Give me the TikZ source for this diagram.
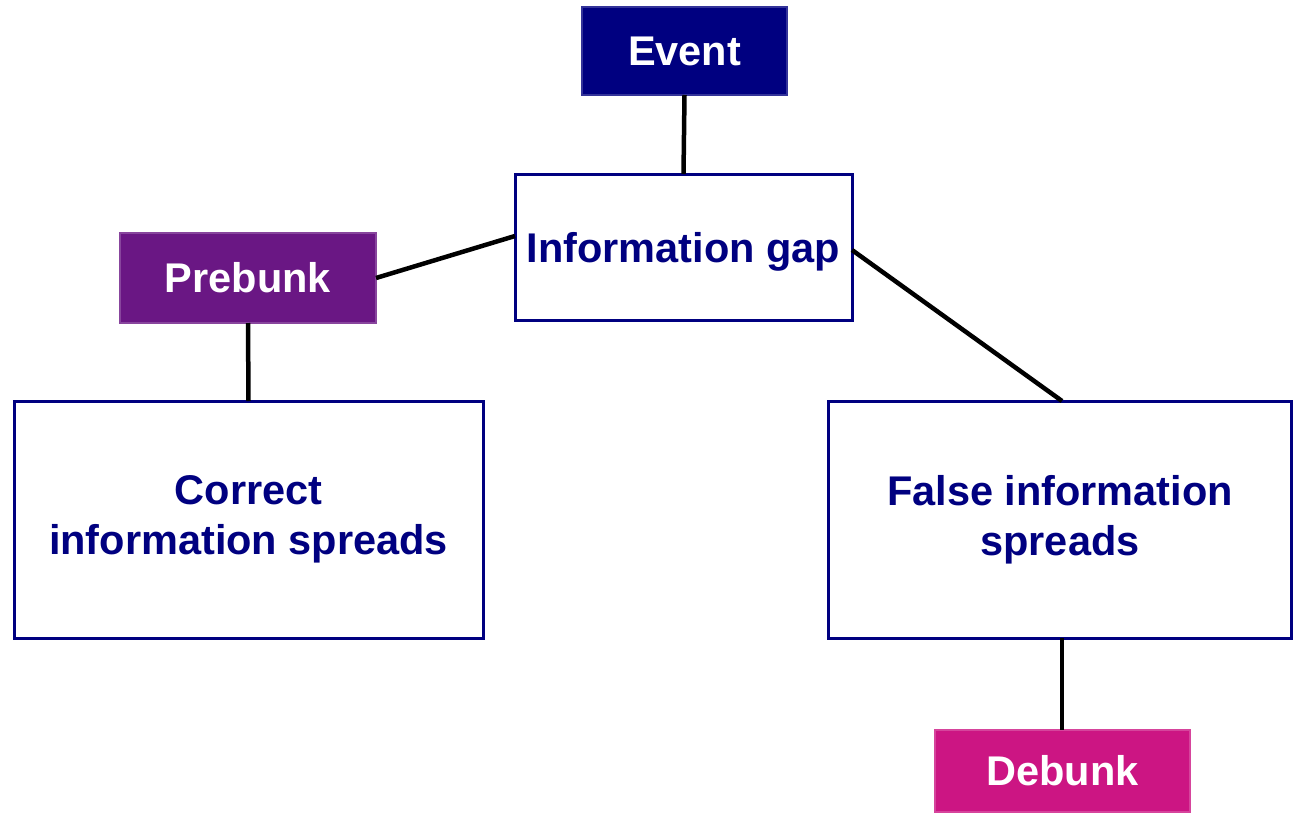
\documentclass[tikz,border=0pt]{standalone}
\usepackage{fontspec}
\setmainfont{Liberation Sans}
\usetikzlibrary{calc}
\definecolor{navy}{HTML}{000080}
\definecolor{prebunkc}{HTML}{6A1784}
\definecolor{debunkc}{HTML}{CC1583}
\begin{document}
\begin{tikzpicture}[x=1pt,y=-1pt,
  filled/.style={rectangle, inner sep=0pt, outer sep=0pt, draw=#1!80!white, line width=2pt, fill=#1, text=white, font=\fontsize{41.5}{48}\selectfont\bfseries},
  plain/.style={rectangle, inner sep=0pt, outer sep=0pt, draw=navy, line width=3pt, fill=white, text=navy, align=center, font=\fontsize{41.5}{50}\selectfont\bfseries},
  conn/.style={line width=4.5pt, black}]
\useasboundingbox (0,0) rectangle (1293,814);
\node[filled=navy, minimum width=205pt, minimum height=88pt] (event) at (684.5,51) {Event};
\node[plain, minimum width=337pt, minimum height=146pt, text depth=0pt] (gap) at (683.5,247) {Information gap};
\node[filled=prebunkc, minimum width=256pt, minimum height=90pt] (prebunk) at (248,278) {Prebunk};
\node[plain, minimum width=469pt, minimum height=237pt] (correct) at (248.5,519.5) {Correct\\information spreads};
\node[plain, minimum width=463pt, minimum height=237pt] (false) at (1060,519.5) {False information\\spreads};
\node[filled=debunkc, minimum width=255pt, minimum height=82pt] (debunk) at (1062.5,771) {Debunk};
\draw[conn] (event.south) -- (gap.north);
\draw[conn] ([yshift=11pt]gap.west) -- (prebunk.east);
\draw[conn] ([yshift=-3pt]gap.east) -- ([xshift=2pt]false.north);
\draw[conn] (prebunk.south) -- (correct.north);
\draw[conn] ([xshift=2pt]false.south) -- ([xshift=-0.5pt]debunk.north);
\end{tikzpicture}
\end{document}
